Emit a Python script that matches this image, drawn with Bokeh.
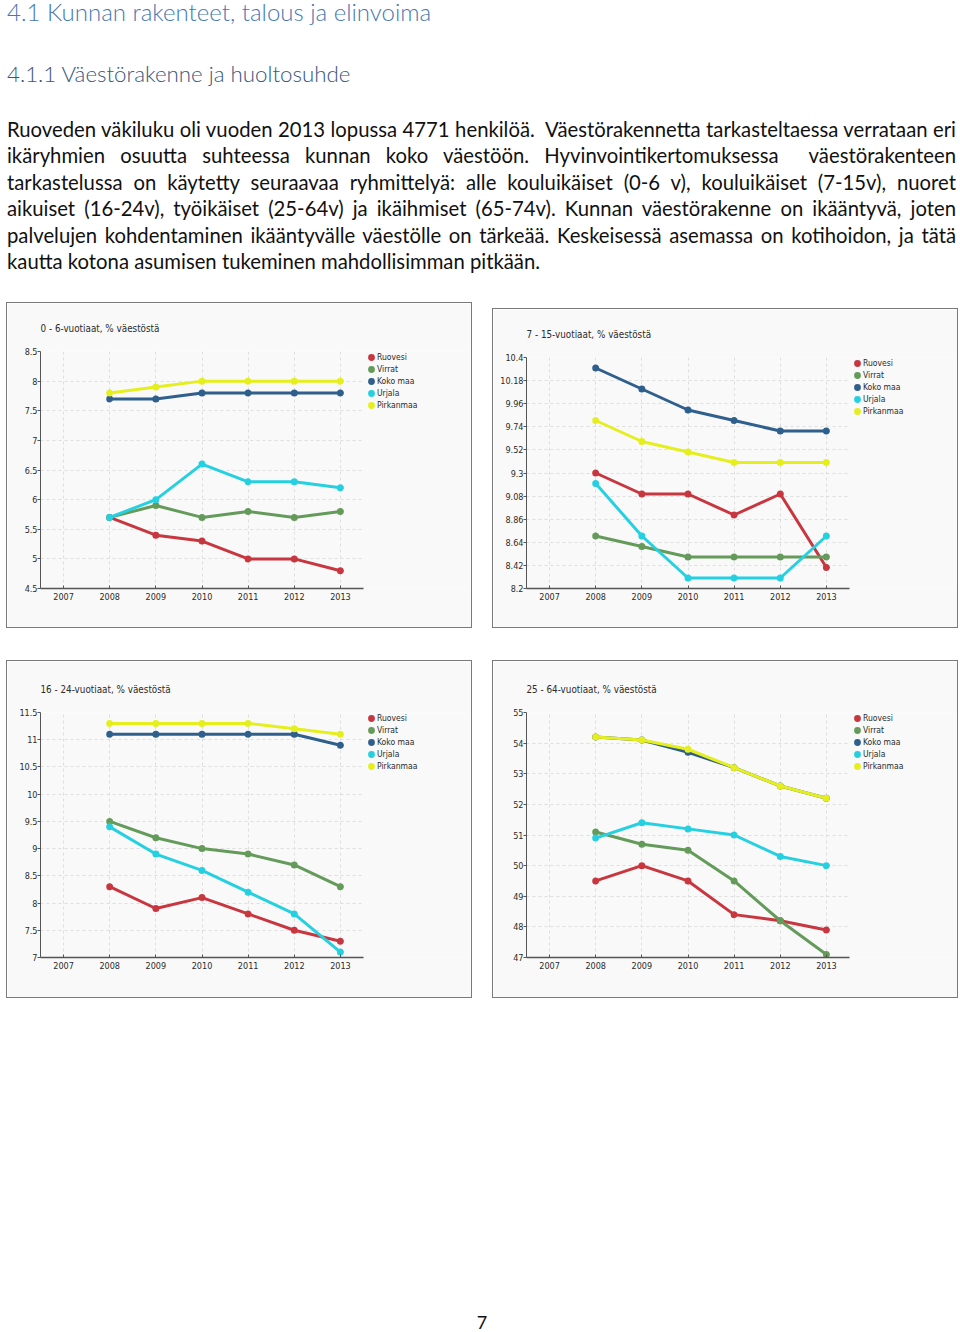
from bokeh.plotting import figure
from bokeh.models import Range1d, FixedTicker, CustomJSTickFormatter, Legend, LegendItem, Div, Spacer
from bokeh.layouts import column, row
from bokeh.embed import file_html
from bokeh.resources import INLINE

# ---------------- data ----------------
years = [2008, 2009, 2010, 2011, 2012, 2013]
year_ticks = [2007, 2008, 2009, 2010, 2011, 2012, 2013]
x_start, x_end = 2006.5, 2013.5
series_names = ["Ruovesi", "Virrat", "Koko maa", "Urjala", "Pirkanmaa"]
series_colors = ["#c8373f", "#649b5a", "#2f5f8c", "#25d0e0", "#e6ef1e"]

c1_title = "0 - 6-vuotiaat, % väestöstä"
c1_yticks = [4.5, 5, 5.5, 6, 6.5, 7, 7.5, 8, 8.5]
c1_ruovesi = [5.7, 5.4, 5.3, 5.0, 5.0, 4.8]
c1_virrat = [5.7, 5.9, 5.7, 5.8, 5.7, 5.8]
c1_kokomaa = [7.7, 7.7, 7.8, 7.8, 7.8, 7.8]
c1_urjala = [5.7, 6.0, 6.6, 6.3, 6.3, 6.2]
c1_pirkanmaa = [7.8, 7.9, 8.0, 8.0, 8.0, 8.0]

c2_title = "7 - 15-vuotiaat, % väestöstä"
c2_yticks = [8.2, 8.42, 8.64, 8.86, 9.08, 9.3, 9.52, 9.74, 9.96, 10.18, 10.4]
c2_ruovesi = [9.3, 9.1, 9.1, 8.9, 9.1, 8.4]
c2_virrat = [8.7, 8.6, 8.5, 8.5, 8.5, 8.5]
c2_kokomaa = [10.3, 10.1, 9.9, 9.8, 9.7, 9.7]
c2_urjala = [9.2, 8.7, 8.3, 8.3, 8.3, 8.7]
c2_pirkanmaa = [9.8, 9.6, 9.5, 9.4, 9.4, 9.4]

c3_title = "16 - 24-vuotiaat, % väestöstä"
c3_yticks = [7, 7.5, 8, 8.5, 9, 9.5, 10, 10.5, 11, 11.5]
c3_ruovesi = [8.3, 7.9, 8.1, 7.8, 7.5, 7.3]
c3_virrat = [9.5, 9.2, 9.0, 8.9, 8.7, 8.3]
c3_kokomaa = [11.1, 11.1, 11.1, 11.1, 11.1, 10.9]
c3_urjala = [9.4, 8.9, 8.6, 8.2, 7.8, 7.1]
c3_pirkanmaa = [11.3, 11.3, 11.3, 11.3, 11.2, 11.1]

c4_title = "25 - 64-vuotiaat, % väestöstä"
c4_yticks = [47, 48, 49, 50, 51, 52, 53, 54, 55]
c4_ruovesi = [49.5, 50.0, 49.5, 48.4, 48.2, 47.9]
c4_virrat = [51.1, 50.7, 50.5, 49.5, 48.2, 47.1]
c4_kokomaa = [54.2, 54.1, 53.7, 53.2, 52.6, 52.2]
c4_urjala = [50.9, 51.4, 51.2, 51.0, 50.3, 50.0]
c4_pirkanmaa = [54.2, 54.1, 53.8, 53.2, 52.6, 52.2]

heading1 = "4.1 Kunnan rakenteet, talous ja elinvoima"
heading2 = "4.1.1 Väestörakenne ja huoltosuhde"
paragraph_lines = [
    "Ruoveden väkiluku oli vuoden 2013 lopussa 4771 henkilöä.&nbsp; Väestörakennetta tarkasteltaessa verrataan eri",
    "ikäryhmien osuutta suhteessa kunnan koko väestöön. Hyvinvointikertomuksessa&nbsp; väestörakenteen",
    "tarkastelussa on käytetty seuraavaa ryhmittelyä: alle kouluikäiset (0-6 v), kouluikäiset (7-15v), nuoret",
    "aikuiset (16-24v), työikäiset (25-64v) ja ikäihmiset (65-74v). Kunnan väestörakenne on ikääntyvä, joten",
    "palvelujen kohdentaminen ikääntyvälle väestölle on tärkeää. Keskeisessä asemassa on kotihoidon, ja tätä",
    "kautta kotona asumisen tukeminen mahdollisimman pitkään.",
]
page_number = "7"

CHART_FONT = "Liberation Sans Narrow, DejaVu Sans Condensed, Liberation Sans, sans-serif"
AXIS_W = 323      # pixel width of the 2006.5..2013.5 axis span
BOX_W = 464


def make_chart(title, yticks, data, height, top, bottom, left=33, right=1):
    frame_w = BOX_W - left - right
    frame_h = height - top - bottom
    x_far = x_start + (x_end - x_start) * frame_w / AXIS_W
    p = figure(width=BOX_W, height=height, output_backend="svg", toolbar_location=None,
               x_range=Range1d(x_start, x_far), y_range=Range1d(yticks[0], yticks[-1]),
               min_border_left=left, min_border_right=right,
               min_border_top=top, min_border_bottom=bottom)
    p.styles = {"box-shadow": "0 0 0 1px #7a7a7a"}
    p.background_fill_color = "#f9f9f9"
    p.border_fill_color = "#f9f9f9"
    p.outline_line_color = None

    p.title.text = title
    p.title.text_font = CHART_FONT
    p.title.text_font_size = "9.8px"
    p.title.text_font_style = "normal"
    p.title.text_color = "#2b2b2b"
    p.title.align = "left"
    p.title.offset = 0
    p.title.standoff = 35

    p.xaxis.ticker = FixedTicker(ticks=year_ticks)
    p.yaxis.ticker = FixedTicker(ticks=yticks)
    p.xaxis.bounds = (x_start, x_end)
    p.yaxis.formatter = CustomJSTickFormatter(code="return String(parseFloat(tick.toFixed(2)))")
    for ax in (p.xaxis[0], p.yaxis[0]):
        ax.axis_line_color = "#555555"
        ax.major_tick_line_color = "#555555"
        ax.minor_tick_line_color = None
        ax.major_label_text_font = CHART_FONT
        ax.major_label_text_font_size = "9px"
        ax.major_label_text_color = "#2b2b2b"
    p.xaxis.axis_line_width = 1.5
    p.xaxis.major_tick_in = 3
    p.xaxis.major_tick_out = 0
    p.xaxis.major_label_standoff = 4
    p.yaxis.axis_line_width = 1
    p.yaxis.major_tick_in = 0
    p.yaxis.major_tick_out = 3
    p.yaxis.major_label_standoff = 0

    for g in (p.xgrid[0], p.ygrid[0]):
        g.grid_line_color = "#dedede"
        g.grid_line_dash = "3 3"
        g.grid_line_width = 1
    p.ygrid[0].cross_bounds = (x_start, x_end)

    items = []
    for name, color, vals in zip(series_names, series_colors, data):
        p.line(years, vals, line_color=color, line_width=3)
        r = p.scatter(years, vals, size=5, fill_color=color, line_color=color, line_width=2)
        items.append(LegendItem(label=name, renderers=[r]))
    legend_h = 12 * len(items)
    legend = Legend(items=items, location=(AXIS_W + 2, frame_h - legend_h), margin=0, padding=0,
                    spacing=0, glyph_width=12, glyph_height=12, label_height=12, label_standoff=0,
                    label_text_font=CHART_FONT, label_text_font_size="8.5px",
                    label_text_color="#2b2b2b", background_fill_alpha=0,
                    border_line_color=None)
    p.add_layout(legend)
    return p


p1 = make_chart(c1_title, c1_yticks, [c1_ruovesi, c1_virrat, c1_kokomaa, c1_urjala, c1_pirkanmaa],
                324, 48, 39)
p2 = make_chart(c2_title, c2_yticks, [c2_ruovesi, c2_virrat, c2_kokomaa, c2_urjala, c2_pirkanmaa],
                318, 48, 39)
p3 = make_chart(c3_title, c3_yticks, [c3_ruovesi, c3_virrat, c3_kokomaa, c3_urjala, c3_pirkanmaa],
                336, 51, 40)
p4 = make_chart(c4_title, c4_yticks, [c4_ruovesi, c4_virrat, c4_kokomaa, c4_urjala, c4_pirkanmaa],
                336, 51, 40)

# ---------------- text (page coordinates, layout origin at 0,0) ----------------
h1_fs, h2_fs, para_fs = 24, 22.3, 20.3
h1_lh = 20
base0 = 136.7
step = 26.52
h1_top = 21.7 - (0.987 * h1_fs + (h1_lh - 1.2 * h1_fs) / 2)
parts = [
    '<div style="position:relative;width:960px;height:303px;font-family:Lato,sans-serif;">',
    f'<div style="position:absolute;left:7px;top:{h1_top:.1f}px;font-size:{h1_fs}px;'
    f'line-height:{h1_lh}px;font-weight:300;color:#4677b3;white-space:nowrap;">{heading1}</div>',
    f'<div style="position:absolute;left:7px;top:{83.3 - 0.987 * h2_fs:.1f}px;font-size:{h2_fs}px;'
    f'line-height:{h2_fs * 1.2:.1f}px;font-weight:300;color:#35587d;white-space:nowrap;">{heading2}</div>',
]
for i, line in enumerate(paragraph_lines):
    top = base0 + i * step - 0.987 * para_fs
    last = i == len(paragraph_lines) - 1
    align = "left" if last else "justify"
    parts.append(
        f'<div style="position:absolute;left:7px;top:{top:.1f}px;width:949px;font-size:{para_fs}px;'
        f'line-height:{para_fs * 1.2:.1f}px;color:#111;white-space:nowrap;text-align:{align};'
        f'text-align-last:{align};">{line}</div>')
parts.append('</div>')
text_div = Div(text="".join(parts), width=960, height=303, margin=0, styles={"overflow": "visible"})

page_div = Div(text=f'<div style="width:960px;text-align:center;font-family:Lato,sans-serif;'
                    f'font-size:18px;line-height:20px;color:#111;padding-left:4px;">{page_number}</div>',
               width=960, height=20, margin=0, styles={"overflow": "visible"})

row1 = row(Spacer(width=7, height=10), p1, Spacer(width=22, height=10),
           column(Spacer(width=10, height=6), p2))
row2 = row(Spacer(width=7, height=10), p3, Spacer(width=22, height=10), p4)
layout = column(text_div, row1, Spacer(width=10, height=34), row2, Spacer(width=10, height=315), page_div)

open("out.html", "w").write(file_html(layout, INLINE))
